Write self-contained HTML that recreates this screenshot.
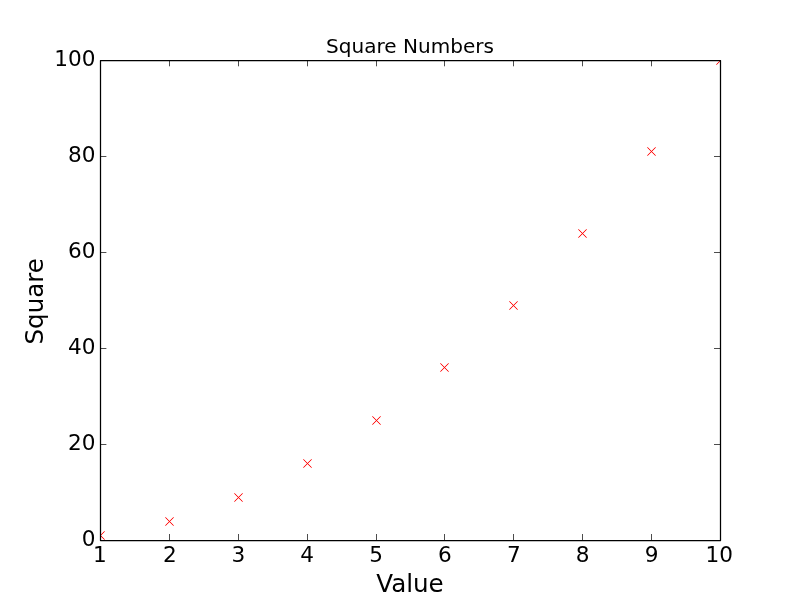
<!DOCTYPE html><html><head><meta charset="utf-8"><title>Square Numbers</title>
<style>html,body{margin:0;padding:0;background:#fff;}svg{display:block;}text{font-family:"DejaVu Sans","Liberation Sans",sans-serif;fill:#000;}</style></head><body>
<svg width="800" height="600" viewBox="0 0 800 600">
<rect width="800" height="600" fill="#fff"/>
<defs><clipPath id="c"><rect x="100" y="60" width="620" height="480"/></clipPath></defs>
<g clip-path="url(#c)" stroke="#f00" stroke-width="0.8" fill="none">
<path d="M96.45 531.45L104.55 539.55M96.45 539.55L104.55 531.45" stroke-width="1.1" stroke-opacity="0.4"/><path d="M96.45 531.45L104.55 539.55M96.45 539.55L104.55 531.45"/>
<path d="M165.45 517.45L173.55 525.55M165.45 525.55L173.55 517.45" stroke-width="1.1" stroke-opacity="0.4"/><path d="M165.45 517.45L173.55 525.55M165.45 525.55L173.55 517.45"/>
<path d="M234.45 493.45L242.55 501.55M234.45 501.55L242.55 493.45" stroke-width="1.1" stroke-opacity="0.4"/><path d="M234.45 493.45L242.55 501.55M234.45 501.55L242.55 493.45"/>
<path d="M303.45 459.45L311.55 467.55M303.45 467.55L311.55 459.45" stroke-width="1.1" stroke-opacity="0.4"/><path d="M303.45 459.45L311.55 467.55M303.45 467.55L311.55 459.45"/>
<path d="M372.45 416.45L380.55 424.55M372.45 424.55L380.55 416.45" stroke-width="1.1" stroke-opacity="0.4"/><path d="M372.45 416.45L380.55 424.55M372.45 424.55L380.55 416.45"/>
<path d="M440.45 363.45L448.55 371.55M440.45 371.55L448.55 363.45" stroke-width="1.1" stroke-opacity="0.4"/><path d="M440.45 363.45L448.55 371.55M440.45 371.55L448.55 363.45"/>
<path d="M509.45 301.45L517.55 309.55M509.45 309.55L517.55 301.45" stroke-width="1.1" stroke-opacity="0.4"/><path d="M509.45 301.45L517.55 309.55M509.45 309.55L517.55 301.45"/>
<path d="M578.45 229.45L586.55 237.55M578.45 237.55L586.55 229.45" stroke-width="1.1" stroke-opacity="0.4"/><path d="M578.45 229.45L586.55 237.55M578.45 237.55L586.55 229.45"/>
<path d="M647.45 147.45L655.55 155.55M647.45 155.55L655.55 147.45" stroke-width="1.1" stroke-opacity="0.4"/><path d="M647.45 147.45L655.55 155.55M647.45 155.55L655.55 147.45"/>
<path d="M716.45 56.45L724.55 64.55M716.45 64.55L724.55 56.45" stroke-width="1.1" stroke-opacity="0.4"/><path d="M716.45 56.45L724.55 64.55M716.45 64.55L724.55 56.45"/>
</g>
<g stroke="#000" stroke-width="0.7" fill="none">
<path d="M100.50 540.5V534M100.50 60.5V66.3"/>
<path d="M169.50 540.5V534M169.50 60.5V66.3"/>
<path d="M238.50 540.5V534M238.50 60.5V66.3"/>
<path d="M307.50 540.5V534M307.50 60.5V66.3"/>
<path d="M376.50 540.5V534M376.50 60.5V66.3"/>
<path d="M444.50 540.5V534M444.50 60.5V66.3"/>
<path d="M513.50 540.5V534M513.50 60.5V66.3"/>
<path d="M582.50 540.5V534M582.50 60.5V66.3"/>
<path d="M651.50 540.5V534M651.50 60.5V66.3"/>
<path d="M720.50 540.5V534M720.50 60.5V66.3"/>
<path d="M100.5 540.50H106.4M720.5 540.50H714"/>
<path d="M100.5 444.50H106.4M720.5 444.50H714"/>
<path d="M100.5 348.50H106.4M720.5 348.50H714"/>
<path d="M100.5 252.50H106.4M720.5 252.50H714"/>
<path d="M100.5 156.50H106.4M720.5 156.50H714"/>
<path d="M100.5 60.50H106.4M720.5 60.50H714"/>
</g>
<rect x="100.5" y="60.5" width="620" height="480" fill="none" stroke="#000" stroke-width="1.25" stroke-linejoin="round"/>
<text x="99.90" y="562" font-size="21.6" text-anchor="middle">1</text>
<text x="169.99" y="562" font-size="21.6" text-anchor="middle">2</text>
<text x="238.28" y="562" font-size="21.6" text-anchor="middle">3</text>
<text x="307.17" y="562" font-size="21.6" text-anchor="middle">4</text>
<text x="376.06" y="562" font-size="21.6" text-anchor="middle">5</text>
<text x="444.94" y="562" font-size="21.6" text-anchor="middle">6</text>
<text x="513.83" y="562" font-size="21.6" text-anchor="middle">7</text>
<text x="582.72" y="562" font-size="21.6" text-anchor="middle">8</text>
<text x="651.61" y="562" font-size="21.6" text-anchor="middle">9</text>
<text x="719.30" y="562" font-size="21.6" text-anchor="middle">10</text>
<text x="95.4" y="546.20" font-size="21.6" text-anchor="end">0</text>
<text x="95.4" y="450.20" font-size="21.6" text-anchor="end">20</text>
<text x="95.4" y="354.20" font-size="21.6" text-anchor="end">40</text>
<text x="95.4" y="258.20" font-size="21.6" text-anchor="end">60</text>
<text x="95.4" y="162.20" font-size="21.6" text-anchor="end">80</text>
<text x="95.4" y="66.20" font-size="21.6" text-anchor="end">100</text>
<text x="410" y="53" font-size="20.05" text-anchor="middle">Square Numbers</text>
<text x="410" y="592" font-size="24.6" text-anchor="middle">Value</text>
<text transform="translate(42.5 301.3) rotate(-90)" font-size="24.6" text-anchor="middle">Square</text>
</svg></body></html>
